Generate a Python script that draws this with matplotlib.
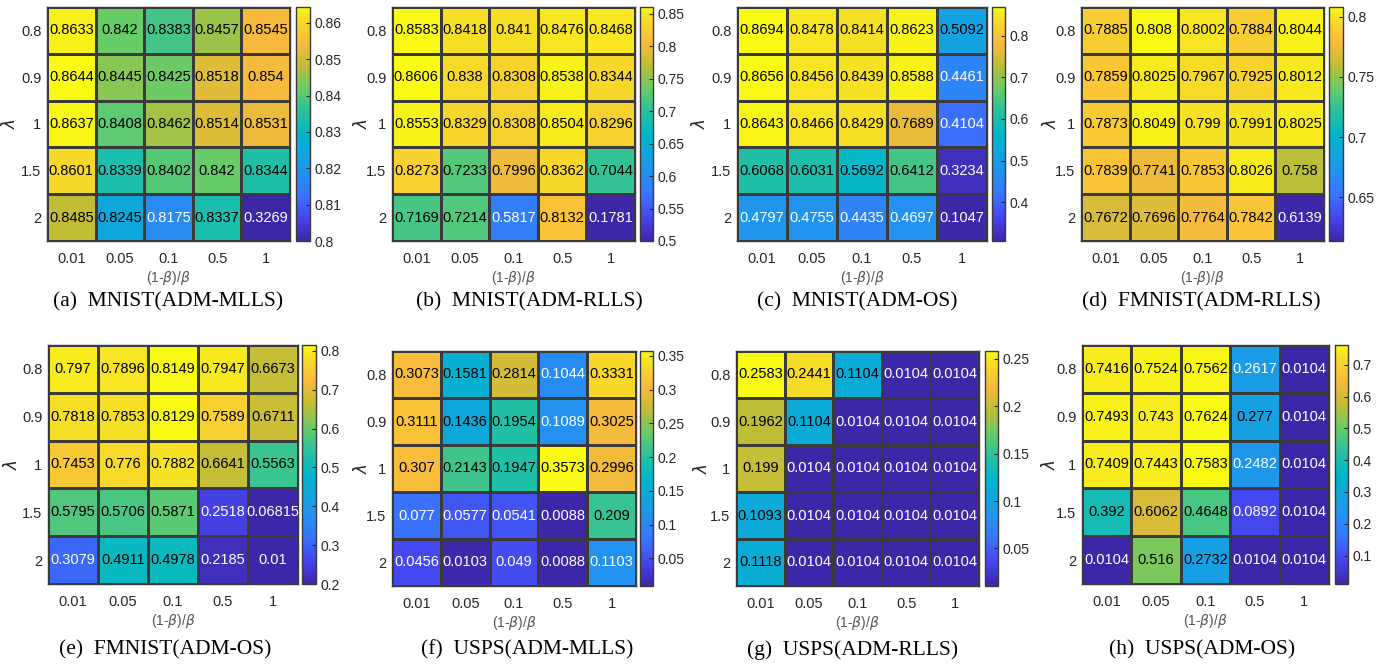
import numpy as np
import matplotlib.pyplot as plt
from matplotlib.colors import LinearSegmentedColormap
from matplotlib.ticker import FormatStrFormatter

W, H = 1397, 668

lam_labels = ['0.8', '0.9', '1', '1.5', '2']
ratio_labels = ['0.01', '0.05', '0.1', '0.5', '1']

# rows: lambda 0.8 .. 2, cols: (1-b)/b 0.01 .. 1
mnist_mlls = [[0.8633, 0.842, 0.8383, 0.8457, 0.8545],
              [0.8644, 0.8445, 0.8425, 0.8518, 0.854],
              [0.8637, 0.8408, 0.8462, 0.8514, 0.8531],
              [0.8601, 0.8339, 0.8402, 0.842, 0.8344],
              [0.8485, 0.8245, 0.8175, 0.8337, 0.3269]]
mnist_rlls = [[0.8583, 0.8418, 0.841, 0.8476, 0.8468],
              [0.8606, 0.838, 0.8308, 0.8538, 0.8344],
              [0.8553, 0.8329, 0.8308, 0.8504, 0.8296],
              [0.8273, 0.7233, 0.7996, 0.8362, 0.7044],
              [0.7169, 0.7214, 0.5817, 0.8132, 0.1781]]
mnist_os = [[0.8694, 0.8478, 0.8414, 0.8623, 0.5092],
            [0.8656, 0.8456, 0.8439, 0.8588, 0.4461],
            [0.8643, 0.8466, 0.8429, 0.7689, 0.4104],
            [0.6068, 0.6031, 0.5692, 0.6412, 0.3234],
            [0.4797, 0.4755, 0.4435, 0.4697, 0.1047]]
fmnist_rlls = [[0.7885, 0.808, 0.8002, 0.7884, 0.8044],
               [0.7859, 0.8025, 0.7967, 0.7925, 0.8012],
               [0.7873, 0.8049, 0.799, 0.7991, 0.8025],
               [0.7839, 0.7741, 0.7853, 0.8026, 0.758],
               [0.7672, 0.7696, 0.7764, 0.7842, 0.6139]]
fmnist_os = [[0.797, 0.7896, 0.8149, 0.7947, 0.6673],
             [0.7818, 0.7853, 0.8129, 0.7589, 0.6711],
             [0.7453, 0.776, 0.7882, 0.6641, 0.5563],
             [0.5795, 0.5706, 0.5871, 0.2518, 0.06815],
             [0.3079, 0.4911, 0.4978, 0.2185, 0.01]]
usps_mlls = [[0.3073, 0.1581, 0.2814, 0.1044, 0.3331],
             [0.3111, 0.1436, 0.1954, 0.1089, 0.3025],
             [0.307, 0.2143, 0.1947, 0.3573, 0.2996],
             [0.077, 0.0577, 0.0541, 0.0088, 0.209],
             [0.0456, 0.0103, 0.049, 0.0088, 0.1103]]
usps_rlls = [[0.2583, 0.2441, 0.1104, 0.0104, 0.0104],
             [0.1962, 0.1104, 0.0104, 0.0104, 0.0104],
             [0.199, 0.0104, 0.0104, 0.0104, 0.0104],
             [0.1093, 0.0104, 0.0104, 0.0104, 0.0104],
             [0.1118, 0.0104, 0.0104, 0.0104, 0.0104]]
usps_os = [[0.7416, 0.7524, 0.7562, 0.2617, 0.0104],
           [0.7493, 0.743, 0.7624, 0.277, 0.0104],
           [0.7409, 0.7443, 0.7583, 0.2482, 0.0104],
           [0.392, 0.6062, 0.4648, 0.0892, 0.0104],
           [0.0104, 0.516, 0.2732, 0.0104, 0.0104]]

captions = ['(a)  MNIST(ADM-MLLS)', '(b)  MNIST(ADM-RLLS)', '(c)  MNIST(ADM-OS)',
            '(d)  FMNIST(ADM-RLLS)', '(e)  FMNIST(ADM-OS)', '(f)  USPS(ADM-MLLS)',
            '(g)  USPS(ADM-RLLS)', '(h)  USPS(ADM-OS)']
datasets = [mnist_mlls, mnist_rlls, mnist_os, fmnist_rlls,
            fmnist_os, usps_mlls, usps_rlls, usps_os]
# colour limits as shown on each colorbar (None = data min / max)
clims = [(0.8, None), (0.5, None), (0.3065, None), (None, None),
         (0.2, None), (None, None), (None, None), (None, None)]
cbar_ticks = [[0.8, 0.81, 0.82, 0.83, 0.84, 0.85, 0.86],
              [0.5, 0.55, 0.6, 0.65, 0.7, 0.75, 0.8, 0.85],
              [0.4, 0.5, 0.6, 0.7, 0.8],
              [0.65, 0.7, 0.75, 0.8],
              [0.2, 0.3, 0.4, 0.5, 0.6, 0.7, 0.8],
              [0.05, 0.1, 0.15, 0.2, 0.25, 0.3, 0.35],
              [0.05, 0.1, 0.15, 0.2, 0.25],
              [0.1, 0.2, 0.3, 0.4, 0.5, 0.6, 0.7]]

# pixel layout: heatmap (left, right, top, bottom), colorbar (left, right), lambda x
boxes = [(47, 290, 7, 241, 296, 310, 8), (392, 635, 7, 241, 640, 653, 360),
         (737, 987, 7, 241, 992, 1005, 698), (1081, 1324, 7, 241, 1329, 1343, 1049),
         (48, 298, 345, 584, 302, 316, 10), (392, 636, 351, 586, 640, 653, 360),
         (736, 979, 351, 586, 985, 998, 700), (1082, 1329, 345, 584, 1335, 1348, 1048)]
cap_pos = [(168, 302), (529, 302), (857, 302), (1201, 302),
           (165, 650), (527, 650), (853, 650), (1202, 650)]

# MATLAB parula approximation
parula = LinearSegmentedColormap.from_list('parula', [
    (0.00, (0.2422, 0.1504, 0.6603)),
    (0.10, (0.2760, 0.2720, 0.9330)),
    (0.20, (0.2200, 0.4600, 0.9950)),
    (0.30, (0.1300, 0.5800, 0.9300)),
    (0.45, (0.0000, 0.7100, 0.8000)),
    (0.55, (0.1500, 0.7550, 0.6300)),
    (0.65, (0.4000, 0.7950, 0.4100)),
    (0.75, (0.7500, 0.7450, 0.2100)),
    (0.85, (0.9800, 0.7300, 0.2400)),
    (0.95, (0.9650, 0.8700, 0.1500)),
    (1.00, (0.9769, 0.9839, 0.0805))])

plt.rcParams['font.family'] = ['Liberation Sans', 'DejaVu Sans']
fig = plt.figure(figsize=(W / 100, H / 100), dpi=100)

txt = '#262626'
edge = '#3a3a3a'

for k in range(8):
    data = np.array(datasets[k])
    l, r, t, b, cl, cr, lx = boxes[k]
    vmin = clims[k][0] if clims[k][0] is not None else data.min()
    vmax = clims[k][1] if clims[k][1] is not None else data.max()

    ax = fig.add_axes([l / W, 1 - b / H, (r - l) / W, (b - t) / H])
    mesh = ax.pcolormesh(data, cmap=parula, vmin=vmin, vmax=vmax,
                         edgecolors=edge, linewidth=0.9)
    ax.set_xlim(0, 5)
    ax.set_ylim(5, 0)
    ax.set_xticks(np.arange(5) + 0.5)
    ax.set_xticklabels(ratio_labels)
    ax.set_yticks(np.arange(5) + 0.5)
    ax.set_yticklabels(lam_labels)
    ax.tick_params(length=0, labelsize=10.5, colors=txt)
    ax.tick_params(axis='x', pad=8)
    ax.tick_params(axis='y', pad=4)
    for s in ax.spines.values():
        s.set_color(edge)
        s.set_linewidth(1.0)
    ax.set_xlabel(r'(1-$\beta$)/$\beta$', fontsize=10, color='#555555', labelpad=2)
    ax.set_ylabel(r'$\lambda$', fontsize=12, color=txt)
    ax.yaxis.set_label_coords(-(l - lx - 10) / (r - l), 0.5)

    for i in range(5):
        for j in range(5):
            v = data[i, j]
            norm = (v - vmin) / (vmax - vmin)
            c = 'white' if norm < 0.34 else 'black'
            ax.text(j + 0.5, i + 0.5, '%.4g' % v, ha='center', va='center',
                    fontsize=10.5, color=c)

    cax = fig.add_axes([cl / W, 1 - b / H, (cr - cl) / W, (b - t) / H])
    cb = fig.colorbar(mesh, cax=cax, ticks=cbar_ticks[k])
    cb.ax.yaxis.set_major_formatter(FormatStrFormatter('%g'))
    cb.ax.tick_params(direction='in', length=3, width=0.8, labelsize=10,
                      colors=txt, pad=3)
    cb.outline.set_edgecolor(edge)
    cb.outline.set_linewidth(1.0)

    fig.text(cap_pos[k][0] / W, 1 - cap_pos[k][1] / H, captions[k],
             ha='center', va='center', fontsize=15.5,
             family=['Liberation Serif', 'DejaVu Serif'])

fig.savefig('out.png', dpi=100)
